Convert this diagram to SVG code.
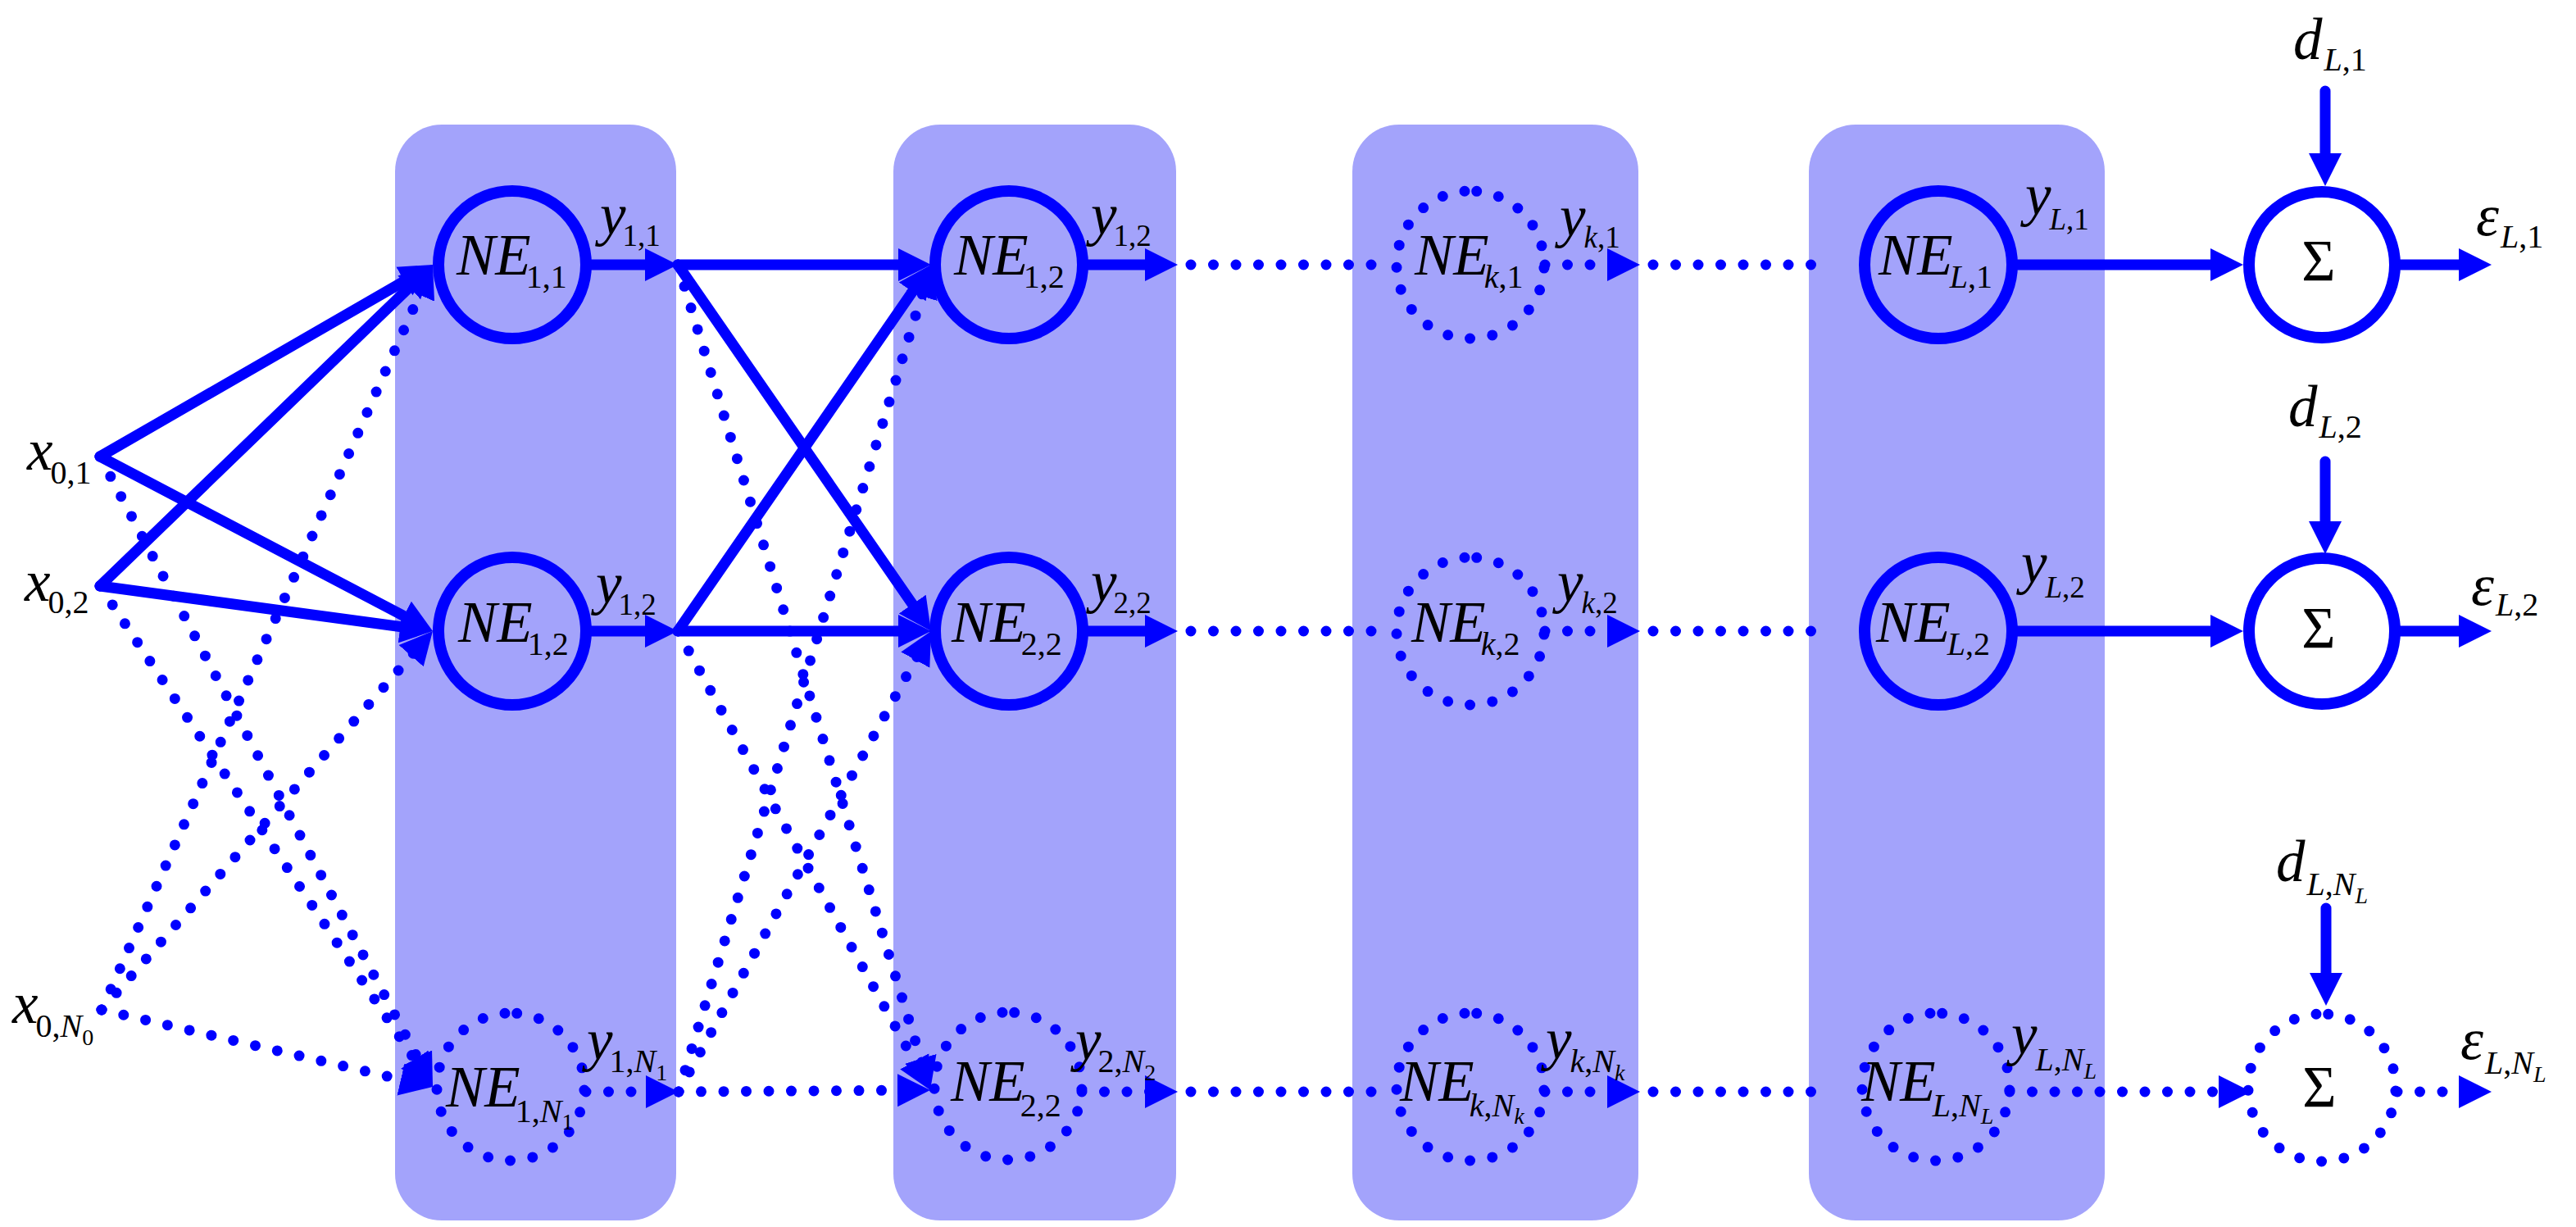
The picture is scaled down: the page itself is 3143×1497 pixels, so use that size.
<svg xmlns="http://www.w3.org/2000/svg" width="3143" height="1497" viewBox="0 0 3143 1497">
<defs>
<style>
.panel{fill:#a3a3fb;stroke:none}
.sl{fill:none;stroke:#0000ff;stroke-width:13;stroke-linecap:round}
.dl{fill:none;stroke:#0000ff;stroke-width:13;stroke-linecap:round;stroke-dasharray:0 27.5}
.ring{fill:none;stroke:#0000ff;stroke-width:14}
.sig{fill:#ffffff;stroke:#0000ff;stroke-width:14}
.t{font-family:"Liberation Serif","Times New Roman",serif;font-size:71px;font-style:italic;fill:#000}
.u{font-style:normal}
.s{font-size:40px;font-style:normal}
.si{font-size:40px;font-style:italic}
.ys{font-size:37px;font-style:normal}
.ysi{font-size:37px;font-style:italic}
.ss{font-size:28px;font-style:normal}
.ssi{font-size:28px;font-style:italic}
</style>
<marker id="ah" markerUnits="userSpaceOnUse" markerWidth="44" markerHeight="44" viewBox="0 -22 44 44" refX="20" refY="0" orient="auto">
<path d="M0,-20 L40,0 L0,20 Z" fill="#0000ff" stroke="none"/>
</marker>
</defs>
<rect width="3143" height="1497" fill="#ffffff"/>
<g id="layers">
<rect class="panel" x="482" y="152" width="343" height="1337" rx="57"/>
<rect class="panel" x="1090" y="152" width="345" height="1337" rx="57"/>
<rect class="panel" x="1650" y="152" width="349" height="1337" rx="57"/>
<rect class="panel" x="2207" y="152" width="361" height="1337" rx="57"/>
</g>
<g id="connectors">
<path class="sl" d="M122,557 L510.7,333" marker-end="url(#ah)"/>
<path class="sl" d="M122,557 L510.3,760.7" marker-end="url(#ah)"/>
<path class="sl" d="M122,715 L513.6,336.9" marker-end="url(#ah)"/>
<path class="sl" d="M122,715 L508.2,767.3" marker-end="url(#ah)"/>
<path class="dl" d="M122,557 L518.7,1308.3" marker-end="url(#ah)"/>
<path class="dl" d="M122,715 L516.9,1309.3" marker-end="url(#ah)"/>
<path class="dl" d="M124,1232 L519.9,341.3" marker-end="url(#ah)"/>
<path class="dl" d="M124,1232 L514.8,785.1" marker-end="url(#ah)"/>
<path class="dl" d="M124,1232 L508.5,1321.5" marker-end="url(#ah)"/>
<path class="sl" d="M716,323 L807,323" marker-end="url(#ah)"/>
<path class="sl" d="M716,770 L807,770" marker-end="url(#ah)"/>
<path class="dl" d="M715,1332 L808,1332" marker-end="url(#ah)"/>
<path class="sl" d="M827,323 L1116,323" marker-end="url(#ah)"/>
<path class="sl" d="M827,323 L1124.6,753.5" marker-end="url(#ah)"/>
<path class="dl" d="M827,323 L1129.2,1310.9" marker-end="url(#ah)"/>
<path class="sl" d="M827,770 L1124.6,339.5" marker-end="url(#ah)"/>
<path class="sl" d="M827,770 L1116,770" marker-end="url(#ah)"/>
<path class="dl" d="M827,770 L1125.4,1312.5" marker-end="url(#ah)"/>
<path class="dl" d="M828,1332 L1130.2,342.1" marker-end="url(#ah)"/>
<path class="dl" d="M828,1332 L1126.4,787.5" marker-end="url(#ah)"/>
<path class="dl" d="M828,1332 L1115,1330.1" marker-end="url(#ah)"/>
<path class="sl" d="M1322,323 L1417,323" marker-end="url(#ah)"/>
<path class="sl" d="M1322,770 L1417,770" marker-end="url(#ah)"/>
<path class="dl" d="M1320,1332 L1417,1332" marker-end="url(#ah)"/>
<path class="dl" d="M1453,323 L1676,323"/>
<path class="dl" d="M1453,770 L1676,770"/>
<path class="dl" d="M1453,1332 L1676,1332"/>
<path class="dl" d="M1885,323 L1981,323" marker-end="url(#ah)"/>
<path class="dl" d="M1885,770 L1981,770" marker-end="url(#ah)"/>
<path class="dl" d="M1885,1332 L1981,1332" marker-end="url(#ah)"/>
<path class="dl" d="M2017,323 L2235,323"/>
<path class="dl" d="M2017,770 L2235,770"/>
<path class="dl" d="M2017,1332 L2235,1332"/>
<path class="sl" d="M2456,323 L2717,323" marker-end="url(#ah)"/>
<path class="sl" d="M2456,770 L2717,770" marker-end="url(#ah)"/>
<path class="dl" d="M2452,1332 L2727,1332" marker-end="url(#ah)"/>
<path class="sl" d="M2923,323 L3020,323" marker-end="url(#ah)"/>
<path class="sl" d="M2923,770 L3020,770" marker-end="url(#ah)"/>
<path class="dl" d="M2925,1332 L3020,1332" marker-end="url(#ah)"/>
<path class="sl" d="M2837,111 L2837,207" marker-end="url(#ah)"/>
<path class="sl" d="M2837,563 L2837,656" marker-end="url(#ah)"/>
<path class="sl" d="M2838,1108 L2838,1207" marker-end="url(#ah)"/>
</g>
<g id="x0_1"><text class="t" x="33" y="573">x<tspan class="s" dx="-3" dy="17">0,1</tspan></text></g>
<g id="x0_2"><text class="t" x="30" y="733">x<tspan class="s" dx="-3" dy="15">0,2</tspan></text></g>
<g id="x0_N0"><text class="t" x="15" y="1248">x<tspan class="s" dx="-3" dy="17">0,</tspan><tspan class="si">N</tspan><tspan class="ss" dy="10">0</tspan></text></g>
<g id="NE_1_1"><circle class="ring" cx="625" cy="323" r="90"/><text class="t" x="557" y="335">NE<tspan class="s" dx="-6" dy="16">1,1</tspan></text></g>
<g id="NE_1_2"><circle class="ring" cx="625" cy="770" r="90"/><text class="t" x="559" y="783">NE<tspan class="s" dx="-6" dy="16">1,2</tspan></text></g>
<g id="NE_1_N1"><path class="dl" d="M630.7,1236.3 A90,90 0 1,1 615.3,1415.7 A90,90 0 1,1 630.7,1236.3"/><text class="t" x="544" y="1350">NE<tspan class="s" dx="-6" dy="19">1,</tspan><tspan class="si">N</tspan><tspan class="ss" dy="9">1</tspan></text></g>
<g id="NE_1_2b"><circle class="ring" cx="1231" cy="323" r="90"/><text class="t" x="1164" y="335">NE<tspan class="s" dx="-6" dy="16">1,2</tspan></text></g>
<g id="NE_2_2"><circle class="ring" cx="1231" cy="770" r="90"/><text class="t" x="1161" y="783">NE<tspan class="s" dx="-6" dy="16">2,2</tspan></text></g>
<g id="NE_2_N2"><path class="dl" d="M1237.7,1235.3 A90,90 0 1,1 1222.3,1414.7 A90,90 0 1,1 1237.7,1235.3"/><text class="t" x="1160" y="1343">NE<tspan class="s" dx="-6" dy="19">2,2</tspan></text></g>
<g id="NE_k_1"><path class="dl" d="M1801.7,233.3 A90,90 0 1,1 1786.3,412.7 A90,90 0 1,1 1801.7,233.3"/><text class="t" x="1726" y="335">NE<tspan class="si" dx="-6" dy="16">k</tspan><tspan class="s">,1</tspan></text></g>
<g id="NE_k_2"><path class="dl" d="M1801.7,680.3 A90,90 0 1,1 1786.3,859.7 A90,90 0 1,1 1801.7,680.3"/><text class="t" x="1722" y="783">NE<tspan class="si" dx="-6" dy="16">k</tspan><tspan class="s">,2</tspan></text></g>
<g id="NE_k_Nk"><path class="dl" d="M1801.7,1236.3 A90,90 0 1,1 1786.3,1415.7 A90,90 0 1,1 1801.7,1236.3"/><text class="t" x="1708" y="1343">NE<tspan class="si" dx="-6" dy="19">k</tspan><tspan class="s">,</tspan><tspan class="si">N</tspan><tspan class="ssi" dy="9">k</tspan></text></g>
<g id="NE_L_1"><circle class="ring" cx="2365" cy="323" r="90"/><text class="t" x="2292" y="335">NE<tspan class="si" dx="-4" dy="16">L</tspan><tspan class="s">,1</tspan></text></g>
<g id="NE_L_2"><circle class="ring" cx="2365" cy="770" r="90"/><text class="t" x="2289" y="783">NE<tspan class="si" dx="-4" dy="16">L</tspan><tspan class="s">,2</tspan></text></g>
<g id="NE_L_NL"><path class="dl" d="M2369.7,1236.3 A90,90 0 1,1 2354.3,1415.7 A90,90 0 1,1 2369.7,1236.3"/><text class="t" x="2271" y="1343">NE<tspan class="si" dx="-4" dy="19">L</tspan><tspan class="s">,</tspan><tspan class="si">N</tspan><tspan class="ssi" dy="9">L</tspan></text></g>
<g id="sum_1"><circle class="sig" cx="2833" cy="323" r="89"/><text class="t u" x="2829" y="342" text-anchor="middle">Σ</text></g>
<g id="sum_2"><circle class="sig" cx="2833" cy="770" r="89"/><text class="t u" x="2829" y="790" text-anchor="middle">Σ</text></g>
<g id="sum_NL"><path class="dl" d="M2840.7,1237.3 A90,90 0 1,1 2825.3,1416.7 A90,90 0 1,1 2840.7,1237.3"/><text class="t u" x="2830" y="1350" text-anchor="middle">Σ</text></g>
<g id="d_L_1"><text class="t" x="2798" y="72">d<tspan class="si" dx="2" dy="14">L</tspan><tspan class="s">,1</tspan></text></g>
<g id="d_L_2"><text class="t" x="2792" y="520">d<tspan class="si" dx="2" dy="14">L</tspan><tspan class="s">,2</tspan></text></g>
<g id="d_L_NL"><text class="t" x="2777" y="1075">d<tspan class="si" dx="2" dy="17">L</tspan><tspan class="s">,</tspan><tspan class="si">N</tspan><tspan class="ssi" dy="10">L</tspan></text></g>
<g id="eps_L_1"><text class="t" x="3021" y="287">ε<tspan class="si" dx="2" dy="15">L</tspan><tspan class="s">,1</tspan></text></g>
<g id="eps_L_2"><text class="t" x="3015" y="738">ε<tspan class="si" dx="2" dy="13">L</tspan><tspan class="s">,2</tspan></text></g>
<g id="eps_L_NL"><text class="t" x="3002" y="1292">ε<tspan class="si" dx="2" dy="18">L</tspan><tspan class="s">,</tspan><tspan class="si">N</tspan><tspan class="ssi" dy="10">L</tspan></text></g>
<g id="edge-labels">
<text class="t" x="732" y="286">y<tspan class="ys" dx="-4" dy="14">1,1</tspan></text>
<text class="t" x="727" y="736">y<tspan class="ys" dx="-4" dy="14">1,2</tspan></text>
<text class="t" x="716" y="1293">y<tspan class="s" dx="-4" dy="15">1,</tspan><tspan class="si">N</tspan><tspan class="ss" dy="10">1</tspan></text>
<text class="t" x="1331" y="286">y<tspan class="ys" dx="-4" dy="14">1,2</tspan></text>
<text class="t" x="1331" y="734">y<tspan class="ys" dx="-4" dy="14">2,2</tspan></text>
<text class="t" x="1312" y="1293">y<tspan class="s" dx="-4" dy="15">2,</tspan><tspan class="si">N</tspan><tspan class="ss" dy="10">2</tspan></text>
<text class="t" x="1903" y="288">y<tspan class="ysi" dx="-2" dy="14">k</tspan><tspan class="ys">,1</tspan></text>
<text class="t" x="1900" y="734">y<tspan class="ysi" dx="-2" dy="14">k</tspan><tspan class="ys">,2</tspan></text>
<text class="t" x="1886" y="1292">y<tspan class="si" dx="-2" dy="16">k</tspan><tspan class="s">,</tspan><tspan class="si">N</tspan><tspan class="ssi" dy="10">k</tspan></text>
<text class="t" x="2471" y="262">y<tspan class="ysi" dx="-2" dy="18">L</tspan><tspan class="ys">,1</tspan></text>
<text class="t" x="2466" y="711">y<tspan class="ysi" dx="-2" dy="18">L</tspan><tspan class="ys">,2</tspan></text>
<text class="t" x="2454" y="1286">y<tspan class="si" dx="-2" dy="20">L</tspan><tspan class="s">,</tspan><tspan class="si">N</tspan><tspan class="ssi" dy="10">L</tspan></text>
</g>
</svg>
